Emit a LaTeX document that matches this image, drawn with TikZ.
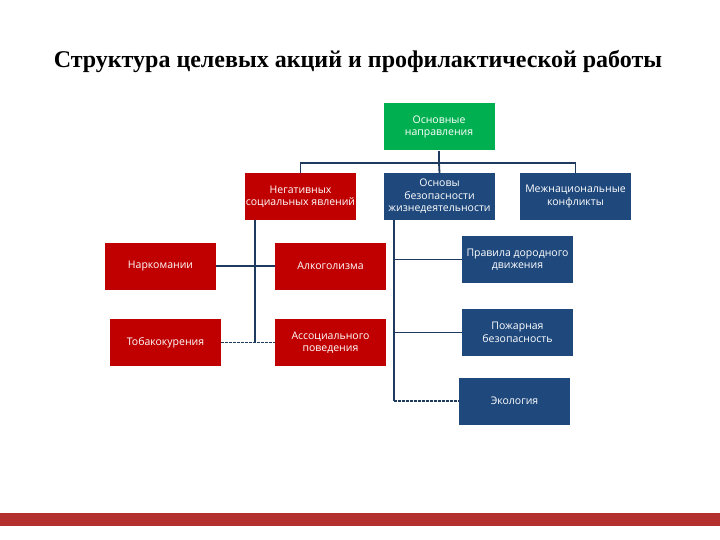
\documentclass[tikz,border=0pt]{standalone}
\usepackage{fontspec}
\setmainfont{Liberation Serif}
\newfontfamily\boxfont{Open Sans}
\definecolor{grn}{HTML}{00B050}
\definecolor{rd}{HTML}{C00000}
\definecolor{bl}{HTML}{1F497D}
\definecolor{ln}{HTML}{1F3A5F}
\definecolor{bar}{HTML}{B3302E}
\tikzset{
  bx/.style={rectangle, inner sep=0pt, minimum width=111pt, minimum height=47pt, text=white, align=center, font=\boxfont\fontsize{10.5}{12.5}\selectfont},
  gbx/.style={bx, fill=grn},
  rbx/.style={bx, fill=rd},
  bbx/.style={bx, fill=bl},
  conn/.style={draw=ln, line width=1.8pt},
  tconn/.style={draw=ln, line width=1.2pt},
  dconn/.style={draw=ln, line width=1.1pt, dash pattern=on 2.5pt off 1.5pt},
}
\begin{document}
\begin{tikzpicture}[x=1pt,y=-1pt]
\useasboundingbox (0,0) rectangle (720,540);
\fill[bar] (0,513) rectangle (720,526);
\node[font=\bfseries\fontsize{24}{28}\selectfont] (title) at (358,62) {Структура целевых акций и профилактической работы};

\node[gbx] (top) at (439,127) {Основные\\направления};
\node[rbx] (neg) at (300.5,196.5) {Негативных\\социальных явлений};
\node[bbx] (obzh) at (439.5,196.5) {Основы\\безопасности\\жизнедеятельности};
\node[bbx] (mezh) at (575.5,196.5) {Межнациональные\\конфликты};

\node[rbx] (nark) at (160.5,266) {Наркомании};
\node[rbx] (alk) at (330.5,266) {Алкоголизма};
\node[rbx] (tob) at (165.5,342.5) {Тобакокурения};
\node[rbx] (asoc) at (330.5,342.5) {Ассоциального\\поведения};

\node[bbx] (pdd) at (517.5,259.5) {Правила дородного\\движения};
\node[bbx] (pozh) at (517.5,332.5) {Пожарная\\безопасность};
\node[bbx] (eco) at (514.5,401) {Экология};

% top tree
\coordinate (hub) at (439,163);
\coordinate (hl) at (300.5,163);
\coordinate (hr) at (575.5,163);
\draw[conn] (top.south) -- (hub);
\draw[conn, line cap=rect] (hl) -- (hr);
\draw[conn] (hl) -- (neg.north);
\draw[conn] (hub) -- (obzh.north);
\draw[conn] (hr) -- (mezh.north);

% red tree
\coordinate (ra) at (255,220);
\coordinate (rb) at (255,342.5);
\draw[tconn] (ra) -- (rb);
\draw[tconn] (nark.east) -- (alk.west);
\draw[dconn] (tob.east) -- (asoc.west);

% blue tree
\coordinate (ba) at (394,220);
\coordinate (bb) at (394,401);
\draw[conn] (ba) -- (bb);
\draw[tconn] (pdd.west -| ba) -- (pdd.west);
\draw[conn] (pozh.west -| ba) -- (pozh.west);
\draw[dconn] (bb) -- (eco.west);
\end{tikzpicture}
\end{document}
